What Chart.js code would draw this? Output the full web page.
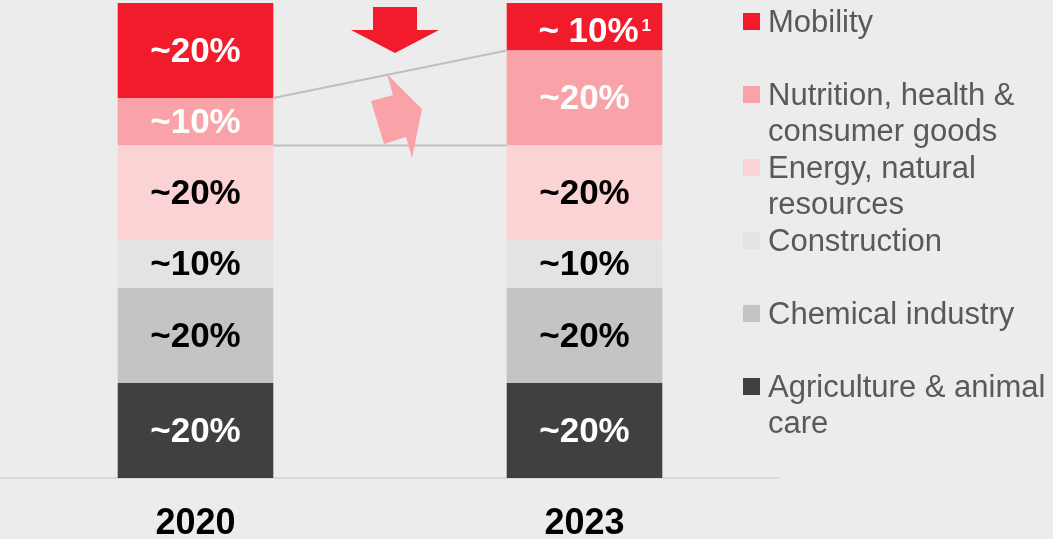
<!DOCTYPE html>
<html>
<head>
<meta charset="utf-8">
<script src="https://cdn.jsdelivr.net/npm/chart.js@4"></script>
<style>
html, body { margin: 0; padding: 0; background: #ececec; }
#wrap { width: 1053px; height: 539px; position: relative; }
</style>
</head>
<body>
<div id="wrap"><canvas id="chart"></canvas></div>
<script>
// categories
const years = ['2020', '2023'];

// segments, bottom to top
const segments = ['Agriculture & animal care', 'Chemical industry', 'Construction',
                  'Energy, natural resources', 'Nutrition, health & consumer goods', 'Mobility'];
const agriculture = [20, 20];
const chemical = [20, 20];
const construction = [10, 10];
const energy = [20, 20];
const nutrition = [10, 20];
const mobility = [20, 10];

// value labels shown in the bars
const agricultureLabels = ['~20%', '~20%'];
const chemicalLabels = ['~20%', '~20%'];
const constructionLabels = ['~10%', '~10%'];
const energyLabels = ['~20%', '~20%'];
const nutritionLabels = ['~10%', '~20%'];
const mobilityLabels = ['~20%', '~ 10%'];
const mobilityFootnotes = ['', '1'];

const colors = ['#404040', '#c4c4c4', '#e3e3e3', '#fbd3d5', '#f9a3a8', '#f21b2c'];
const labelColors = ['#ffffff', '#000000', '#000000', '#000000', '#ffffff', '#ffffff'];

const allValues = [agriculture, chemical, construction, energy, nutrition, mobility];
const allLabels = [agricultureLabels, chemicalLabels, constructionLabels, energyLabels, nutritionLabels, mobilityLabels];
const allFootnotes = [null, null, null, null, null, mobilityFootnotes];

const FONT = '"Liberation Sans", Arial, sans-serif';

// connector lines + arrows, drawn under the labels
const decorPlugin = {
    id: 'decor',
    afterDatasetsDraw(chart) {
        const ctx = chart.ctx;
        const bars = chart.getDatasetMeta(4).data;
        const a = bars[0], b = bars[1];
        ctx.save();
        ctx.strokeStyle = '#bfbfbf';
        ctx.lineWidth = 2;
        ctx.beginPath();
        ctx.moveTo(a.x + a.width / 2, a.y);
        ctx.lineTo(b.x - b.width / 2, b.y);
        ctx.moveTo(a.x + a.width / 2, a.base);
        ctx.lineTo(b.x - b.width / 2, b.base);
        ctx.stroke();

        // red "down" arrow
        ctx.fillStyle = colors[5];
        ctx.beginPath();
        [[373, 7], [417, 7], [417, 30], [439, 30], [395, 53], [351, 30], [373, 30]].forEach((p, i) => {
            i ? ctx.lineTo(p[0], p[1]) : ctx.moveTo(p[0], p[1]);
        });
        ctx.closePath();
        ctx.fill();

        // pink "up" arrow
        ctx.fillStyle = colors[4];
        ctx.beginPath();
        [[387, 74], [422, 109], [412, 158], [406, 137], [384, 144], [371, 101], [393, 95]].forEach((p, i) => {
            i ? ctx.lineTo(p[0], p[1]) : ctx.moveTo(p[0], p[1]);
        });
        ctx.closePath();
        ctx.fill();
        ctx.restore();
    }
};

// value labels in the bar segments
const labelPlugin = {
    id: 'segLabels',
    afterDatasetsDraw(chart) {
        const ctx = chart.ctx;
        ctx.save();
        chart.data.datasets.forEach((ds, i) => {
            chart.getDatasetMeta(i).data.forEach((el, j) => {
                const text = allLabels[i][j];
                const note = allFootnotes[i] ? allFootnotes[i][j] : '';
                const cy = (el.y + el.base) / 2 + 11;
                ctx.fillStyle = labelColors[i];
                ctx.font = 'bold 35px ' + FONT;
                ctx.textBaseline = 'alphabetic';
                if (note) {
                    const w = ctx.measureText(text).width;
                    const cx = el.x + 4;
                    ctx.textAlign = 'center';
                    ctx.fillText(text, cx, cy + 4);
                    ctx.font = 'bold 17px ' + FONT;
                    ctx.textAlign = 'left';
                    ctx.fillText(note, cx + w / 2 + 3, cy - 7);
                } else {
                    ctx.textAlign = 'center';
                    ctx.fillText(text, el.x, cy);
                }
            });
        });
        ctx.restore();
    }
};

// legend on the right, top item = top segment
const legendPlugin = {
    id: 'sideLegend',
    afterDraw(chart) {
        const ctx = chart.ctx;
        const left = 743, textX = 768, maxW = 285;
        ctx.save();
        ctx.font = '31px ' + FONT;
        ctx.textAlign = 'left';
        ctx.textBaseline = 'alphabetic';
        const n = chart.data.datasets.length;
        for (let k = 0; k < n; k++) {
            const ds = chart.data.datasets[n - 1 - k];
            const base = 32 + k * 73;
            ctx.fillStyle = ds.backgroundColor;
            ctx.fillRect(left, base - 19, 17, 17);
            // wrap text
            const words = ds.label.split(' ');
            const lines = [];
            let cur = '';
            words.forEach(w => {
                const t = cur ? cur + ' ' + w : w;
                if (ctx.measureText(t).width > maxW && cur) {
                    lines.push(cur);
                    cur = w;
                } else {
                    cur = t;
                }
            });
            lines.push(cur);
            ctx.fillStyle = '#595959';
            lines.forEach((ln, li) => ctx.fillText(ln, textX, base + li * 36));
        }
        ctx.restore();
    }
};

new Chart(document.getElementById('chart'), {
    type: 'bar',
    data: {
        labels: years,
        datasets: segments.map((name, i) => ({
            label: name,
            data: allValues[i],
            backgroundColor: colors[i],
            borderWidth: 0,
            categoryPercentage: 1,
            barPercentage: 0.4
        }))
    },
    options: {
        responsive: true,
        maintainAspectRatio: false,
        animation: false,
        layout: { padding: { left: 1, right: 274, top: 3, bottom: 0 } },
        plugins: {
            legend: { display: false },
            tooltip: { enabled: false }
        },
        scales: {
            x: {
                stacked: true,
                grid: { display: false, drawTicks: false },
                border: { display: true, color: '#d9d9d9', width: 2 },
                ticks: {
                    color: '#000000',
                    font: { family: FONT, size: 36, weight: 'bold' },
                    padding: 24
                },
                afterFit(scale) { scale.height = 61; }
            },
            y: {
                stacked: true,
                display: false,
                min: 0,
                max: 100
            }
        }
    },
    plugins: [decorPlugin, labelPlugin, legendPlugin]
});
</script>
</body>
</html>
